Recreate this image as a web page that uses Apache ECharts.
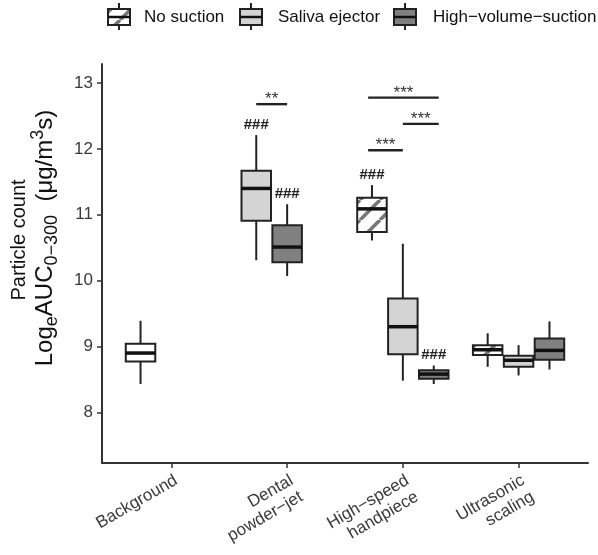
<!DOCTYPE html>
<html><head><meta charset="utf-8">
<script src="https://cdn.jsdelivr.net/npm/echarts@6/dist/echarts.min.js"></script>
<style>html,body{margin:0;padding:0;background:#fff}#c{width:598px;height:555px}</style>
</head><body><div id="c"></div>
<script>
// ---------------- data ----------------
const categories = ['Background', 'Dental\npowder−jet', 'High−speed\nhandpiece', 'Ultrasonic\nscaling'];
const groupNames = ['No suction', 'Saliva ejector', 'High−volume−suction'];
const yTicks = [8, 9, 10, 11, 12, 13];
// [low whisker, Q1, median, Q3, high whisker] per category (null = absent)
const background        = [[8.43, 8.77, 8.90, 9.04, 9.39], null, null, null];
const noSuction         = [null, null, [10.61, 10.74, 11.09, 11.26, 11.45], [8.69, 8.87, 8.95, 9.02, 9.20]];
const salivaEjector     = [null, [10.31, 10.91, 11.40, 11.67, 12.21], [8.48, 8.88, 9.30, 9.73, 10.56], [8.56, 8.69, 8.79, 8.86, 9.02]];
const highVolumeSuction = [null, [10.07, 10.28, 10.51, 10.84, 11.16], [8.43, 8.51, 8.58, 8.64, 8.71], [8.65, 8.80, 8.94, 9.12, 9.38]];
// "###" markers: [group, category index]
const hashMarks = [['saliva', 1], ['hvs', 1], ['noSuction', 2], ['hvs', 2]];
// significance brackets: [x start, x end, y, label]
const sigBars = [[1.733, 2.0, 12.68, '**'], [2.70, 3.0, 11.98, '***'], [3.0, 3.31, 12.38, '***'], [2.70, 3.31, 12.78, '***']];

// ---------------- layout / style ----------------
const FONT = "'Liberation Sans', Arial, sans-serif";
const DODGE = 0.267, BOXW = 0.255;
const slots = { background: [-1, 0, 0, 0], noSuction: [0, 0, -1, -1], saliva: [0, -1, 0, 0], hvs: [0, 0, 1, 1] };
const groups = { background, noSuction, saliva: salivaEjector, hvs: highVolumeSuction };

function hatchCanvas() {
  const s = 20, c = document.createElement('canvas');
  c.width = s; c.height = s;
  const g = c.getContext('2d');
  g.fillStyle = '#ffffff'; g.fillRect(0, 0, s, s);
  g.strokeStyle = '#777777'; g.lineWidth = 3.6;
  for (const k of [-s, 0, s]) { g.beginPath(); g.moveTo(k, s); g.lineTo(k + s, 0); g.stroke(); }
  return c;
}
const HATCH = { image: hatchCanvas(), repeat: 'repeat' };
const fills = { background: '#ffffff', noSuction: HATCH, saliva: '#d4d4d4', hvs: '#808080' };

function boxData(key) {
  return groups[key].map((v, i) => v ? [i + 1 + slots[key][i] * DODGE].concat(v) : null).filter(Boolean);
}
function boxRender(fill) {
  return function (params, api) {
    const x = api.value(0);
    const p = k => api.coord([x, api.value(k)]);
    const hw = api.size([BOXW, 0])[0] / 2;
    const cx = p(1)[0];
    const yLow = p(1)[1], yQ1 = p(2)[1], yMed = p(3)[1], yQ3 = p(4)[1], yHigh = p(5)[1];
    return { type: 'group', children: [
      { type: 'line', shape: { x1: cx, y1: yHigh, x2: cx, y2: yLow }, style: { stroke: '#222', lineWidth: 2 } },
      { type: 'rect', shape: { x: cx - hw, y: yQ3, width: 2 * hw, height: yQ1 - yQ3 }, style: { fill: fill, stroke: '#222', lineWidth: 2 } },
      { type: 'line', shape: { x1: cx - hw, y1: yMed, x2: cx + hw, y2: yMed }, style: { stroke: '#111', lineWidth: 3.5 } }
    ] };
  };
}
function boxSeries(key, name) {
  return { type: 'custom', name: name, data: boxData(key), encode: { x: 0, y: [1, 2, 3, 4, 5] },
    renderItem: boxRender(fills[key]), silent: true, z: 2 };
}
const hashData = hashMarks.map(([k, i]) => [i + 1 + slots[k][i] * DODGE, groups[k][i][4]]);
const sigData = sigBars.map(b => [b[0], b[1], b[2]]);

// legend glyphs
function legendKey(cx, fill) {
  return { type: 'group', children: [
    { type: 'line', shape: { x1: cx, y1: 3, x2: cx, y2: 30 }, style: { stroke: '#222', lineWidth: 2 } },
    { type: 'rect', shape: { x: cx - 11, y: 9, width: 22, height: 16 }, style: { fill: fill, stroke: '#222', lineWidth: 2 } },
    { type: 'line', shape: { x1: cx - 11, y1: 17, x2: cx + 11, y2: 17 }, style: { stroke: '#111', lineWidth: 2.5 } }
  ] };
}
const legendPos = [[119, 144, fills.noSuction], [251, 278, fills.saliva], [405, 433, fills.hvs]];
const graphics = [];
legendPos.forEach((lp, i) => {
  graphics.push(legendKey(lp[0], lp[2]));
  graphics.push({ type: 'text', x: lp[1], y: 17, style: { text: groupNames[i], font: '17px ' + FONT, fill: '#111', align: 'left', verticalAlign: 'middle' } });
});
graphics.push({ type: 'text', x: 19, y: 240, rotation: Math.PI / 2,
  style: { text: 'Particle count', font: '20px ' + FONT, fill: '#111', align: 'center', verticalAlign: 'middle' } });
graphics.push({ type: 'text', x: 45, y: 238, rotation: Math.PI / 2,
  style: { text: '{b|Log}{s|e}{b|AUC}{s|0−300}{b|  (μg/m}{p|3}{b|s)}', align: 'center', verticalAlign: 'middle',
    rich: {
      b: { fontSize: 24, fontFamily: FONT, fill: '#111', lineHeight: 32 },
      s: { fontSize: 18, fontFamily: FONT, fill: '#111', lineHeight: 18, verticalAlign: 'bottom' },
      p: { fontSize: 18, fontFamily: FONT, fill: '#111', lineHeight: 18, verticalAlign: 'top' }
    } } });

const chart = echarts.init(document.getElementById('c'), null, { renderer: 'canvas' });
chart.setOption({
  animation: false,
  backgroundColor: '#ffffff',
  grid: { left: 102, right: 10, top: 64, bottom: 92 },
  xAxis: {
    type: 'value', min: 0.4, max: 4.6,
    splitLine: { show: false },
    axisLine: { show: true, onZero: false, lineStyle: { color: '#333', width: 2 } },
    axisTick: { show: true, customValues: [1, 2, 3, 4], length: 5, lineStyle: { color: '#333', width: 1.5 } },
    axisLabel: { customValues: [1, 2, 3, 4], formatter: v => categories[Math.round(v) - 1],
      rotate: 30, align: 'right', verticalAlign: 'top', margin: 8, fontSize: 17, lineHeight: 19,
      fontFamily: FONT, color: '#3a3a3a' }
  },
  yAxis: {
    type: 'value', min: 7.23, max: 13.29,
    splitLine: { show: false },
    axisLine: { show: true, onZero: false, lineStyle: { color: '#333', width: 2 } },
    axisTick: { show: true, customValues: yTicks, length: 5, lineStyle: { color: '#333', width: 1.5 } },
    axisLabel: { customValues: yTicks, margin: 9, fontSize: 17, fontFamily: FONT, color: '#3a3a3a' }
  },
  series: [
    boxSeries('background', 'Background'),
    boxSeries('noSuction', groupNames[0]),
    boxSeries('saliva', groupNames[1]),
    boxSeries('hvs', groupNames[2]),
    { type: 'custom', name: 'hash', data: hashData, encode: { x: 0, y: 1 }, silent: true, z: 3,
      renderItem: (params, api) => {
        const pt = api.coord([api.value(0), api.value(1)]);
        return { type: 'text', x: pt[0], y: pt[1] - 3,
          style: { text: '###', font: 'bold 15px ' + FONT, fill: '#222', align: 'center', verticalAlign: 'bottom' } };
      } },
    { type: 'custom', name: 'sig', data: sigData, encode: { x: [0, 1], y: 2 }, silent: true, z: 3,
      renderItem: (params, api) => {
        const a = api.coord([api.value(0), api.value(2)]);
        const b = api.coord([api.value(1), api.value(2)]);
        return { type: 'group', children: [
          { type: 'line', shape: { x1: a[0], y1: a[1], x2: b[0], y2: b[1] }, style: { stroke: '#222', lineWidth: 2.4 } },
          { type: 'text', x: (a[0] + b[0]) / 2, y: a[1] + 4,
            style: { text: sigBars[params.dataIndex][3], font: '17px ' + FONT, fill: '#333', align: 'center', verticalAlign: 'bottom' } }
        ] };
      } }
  ],
  graphic: graphics
});
</script>
</body></html>
